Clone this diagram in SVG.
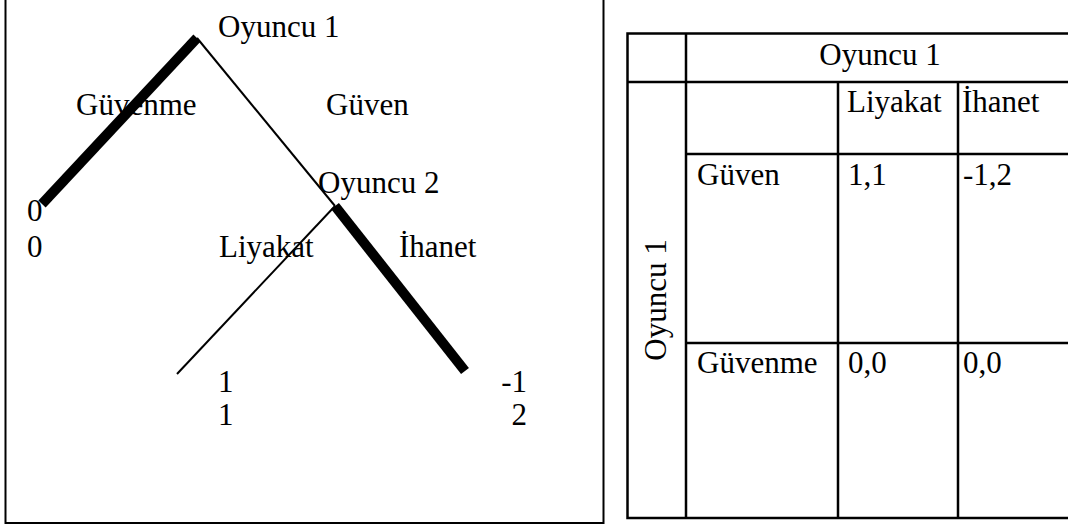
<svg xmlns="http://www.w3.org/2000/svg" width="1068" height="528" viewBox="0 0 1068 528">
  <style>
    text { font-family: "Liberation Serif", "Times New Roman", serif; font-size: 31px; fill: #000; }
    .frame { fill: none; stroke: #000; stroke-width: 2; }
    .grid { fill: none; stroke: #000; stroke-width: 2.5; }
    .move { fill: none; stroke: #000; stroke-width: 2; }
    .chosen { fill: none; stroke: #000; stroke-width: 10; }
  </style>
  <rect x="0" y="0" width="1068" height="528" fill="#fff"/>

  <!-- game tree panel frame (open at the top) -->
  <path class="frame" d="M5.5,0 V523 H603.5 V0"/>

  <!-- connectors: tree branches, bold = equilibrium path -->
  <g id="connectors">
    <line class="chosen" x1="197" y1="38" x2="42" y2="204"/>
    <line class="move" x1="197" y1="38" x2="335" y2="206"/>
    <line class="chosen" x1="335" y1="206" x2="465" y2="371"/>
    <line class="move" x1="335" y1="206" x2="177" y2="374"/>
  </g>

  <!-- decision nodes -->
  <g id="node-player1">
    <text x="218" y="37">Oyuncu 1</text>
  </g>
  <g id="node-player2">
    <text x="318" y="193">Oyuncu 2</text>
  </g>

  <!-- branch labels -->
  <g id="label-guvenme"><text x="76" y="115">Güvenme</text></g>
  <g id="label-guven"><text x="326" y="115">Güven</text></g>
  <g id="label-liyakat"><text x="219" y="257">Liyakat</text></g>
  <g id="label-ihanet"><text x="399" y="257">İhanet</text></g>

  <!-- terminal payoffs -->
  <g id="payoff-guvenme">
    <text x="27" y="221">0</text>
    <text x="27" y="257">0</text>
  </g>
  <g id="payoff-liyakat">
    <text x="218" y="392">1</text>
    <text x="218" y="425">1</text>
  </g>
  <g id="payoff-ihanet">
    <text x="527" y="392" text-anchor="end">-1</text>
    <text x="527" y="425" text-anchor="end">2</text>
  </g>

  <!-- normal-form table -->
  <g id="payoff-table">
    <rect class="grid" x="627.5" y="33.5" width="460" height="484.5"/>
    <line class="grid" x1="686" y1="33.5" x2="686" y2="518"/>
    <line class="grid" x1="627.5" y1="82" x2="1090" y2="82"/>
    <line class="grid" x1="838" y1="82" x2="838" y2="518"/>
    <line class="grid" x1="958" y1="82" x2="958" y2="518"/>
    <line class="grid" x1="686" y1="154" x2="1090" y2="154"/>
    <line class="grid" x1="686" y1="343" x2="1090" y2="343"/>

    <text x="880" y="65" text-anchor="middle">Oyuncu 1</text>
    <text x="847" y="112">Liyakat</text>
    <text x="962" y="112">İhanet</text>
    <text x="697" y="185">Güven</text>
    <text x="848" y="185">1,1</text>
    <text x="963" y="185">-1,2</text>
    <text x="697" y="373">Güvenme</text>
    <text x="848" y="373">0,0</text>
    <text x="963" y="373">0,0</text>
    <text transform="translate(666,300) rotate(-90)" text-anchor="middle">Oyuncu 1</text>
  </g>
</svg>
